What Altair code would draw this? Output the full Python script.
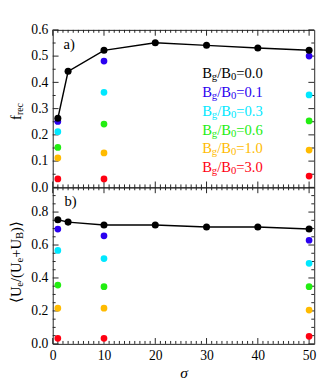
import altair as alt
import pandas as pd

# ---------------- data ----------------
sigma_all = [1, 3, 10, 20, 30, 40, 50]
sigma_bg = [1, 10, 50]

frec_bg00 = [0.263, 0.442, 0.522, 0.551, 0.541, 0.531, 0.522]
frec_bg01 = [0.251, 0.481, 0.500]
frec_bg03 = [0.212, 0.362, 0.352]
frec_bg06 = [0.152, 0.241, 0.253]
frec_bg10 = [0.112, 0.131, 0.142]
frec_bg30 = [0.032, 0.032, 0.043]

ue_bg00 = [0.753, 0.739, 0.721, 0.721, 0.709, 0.709, 0.697]
ue_bg01 = [0.697, 0.656, 0.629]
ue_bg03 = [0.567, 0.518, 0.489]
ue_bg06 = [0.357, 0.347, 0.347]
ue_bg10 = [0.217, 0.217, 0.205]
ue_bg30 = [0.034, 0.034, 0.046]

bg_values = ["0.0", "0.1", "0.3", "0.6", "1.0", "3.0"]
bg_colors = ["#000000", "#2a00f0", "#00e8ff", "#22ee11", "#ffbb00", "#ff0011"]

x_major = [0, 10, 20, 30, 40, 50]
x_minor = [i for i in range(1, 51) if i % 10]
ya_major = [0.0, 0.1, 0.2, 0.3, 0.4, 0.5, 0.6]
ya_minor = [0.05, 0.15, 0.25, 0.35, 0.45, 0.55]
yb_major = [0.0, 0.2, 0.4, 0.6, 0.8]
yb_minor = [0.05, 0.1, 0.15, 0.25, 0.3, 0.35, 0.45, 0.5, 0.55, 0.65, 0.7, 0.75, 0.85, 0.9]

# ---------------- style ----------------
W, HA, HB = 269, 162, 161
FONT = "Liberation Serif"
TICK = "#222222"
MAJ, MIN = 6, 3
xs = alt.Scale(domain=[0, 51], nice=False, zero=False)
ysa = alt.Scale(domain=[0, 0.6], nice=False, zero=False)
ysb = alt.Scale(domain=[0, 0.95], nice=False, zero=False)


def txt(s, x, y, size, color="black", angle=0, dx=0, dy=0):
    return alt.Chart(pd.DataFrame({"t": [s]})).mark_text(
        font=FONT, fontSize=size, color=color, align="left", baseline="middle",
        angle=angle, dx=dx, dy=dy).encode(
        x=alt.value(x), y=alt.value(y), text="t:N")


def panel(y_all, bg_lists, ys, ymaj, ymin, H, show_x, texts):
    if show_x:
        xaxis = alt.Axis(values=x_major, format="d", ticks=False, domain=False, grid=False,
                         labelFont=FONT, labelFontSize=14, labelColor="black", labelPadding=5,
                         labelFlush=False, title="σ", titleFont=FONT, titleFontStyle="italic",
                         titleFontWeight="normal", titleFontSize=16, titleColor="black",
                         titlePadding=3)
    else:
        xaxis = alt.Axis(values=x_major, labels=False, ticks=False, domain=False, grid=False,
                         title=None)
    yaxis = alt.Axis(values=ymaj, format=".1f", ticks=False, domain=False, grid=False,
                     labelFont=FONT, labelFontSize=14, labelColor="black", labelPadding=5,
                     labelFlush=False, labelOverlap=False, title=None)
    X = lambda f: alt.X(f, scale=xs, axis=xaxis)
    Y = lambda f: alt.Y(f, scale=ys, axis=yaxis)

    layers = []
    for vals, L in ((x_major, MAJ), (x_minor, MIN)):
        d = pd.DataFrame({"v": vals})
        for y0, y1 in ((H, H - L), (0, L)):
            layers.append(alt.Chart(d).mark_rule(color=TICK, strokeWidth=1).encode(
                x=X("v:Q"), y=alt.value(y0), y2=alt.value(y1)))
    for vals, L in ((ymaj, MAJ), (ymin, MIN)):
        d = pd.DataFrame({"v": vals})
        for x0, x1 in ((0, L), (W - L, W)):
            layers.append(alt.Chart(d).mark_rule(color=TICK, strokeWidth=1).encode(
                y=Y("v:Q"), x=alt.value(x0), x2=alt.value(x1)))

    rows = []
    for lab, vals in zip(bg_values[1:], bg_lists):
        for s, v in zip(sigma_bg, vals):
            rows.append({"sigma": s, "val": v, "bg": lab})
    pts = pd.DataFrame(rows)
    colored = alt.Chart(pts).mark_circle(size=48, opacity=1).encode(
        x=X("sigma:Q"), y=Y("val:Q"),
        color=alt.Color("bg:N", scale=alt.Scale(domain=bg_values[1:], range=bg_colors[1:]),
                        legend=None))
    black = pd.DataFrame({"sigma": sigma_all, "val": y_all})
    line = alt.Chart(black).mark_line(color="black", strokeWidth=1.5).encode(
        x=X("sigma:Q"), y=Y("val:Q"))
    bpts = alt.Chart(black).mark_circle(size=52, color="black", opacity=1).encode(
        x=X("sigma:Q"), y=Y("val:Q"))
    layers += [colored, line, bpts] + texts
    return alt.layer(*layers).properties(width=W, height=H)


# ---------------- texts ----------------
texts_a = [txt("a)", 11, 15, 15)]
TX = -37.5
texts_a += [txt("f", TX, 92.6, 15, angle=270),
            txt("rec", TX, 92.6, 10, angle=270, dx=5, dy=3.5)]
for i, (lab, col) in enumerate(zip(bg_values, bg_colors)):
    yy = 45 + 19.25 * i
    x0 = 153.7
    texts_a += [txt("B", x0, yy, 15, col),
                txt("g", x0 + 10, yy + 4, 11, col),
                txt("/B", x0 + 15.5, yy, 15, col),
                txt("0", x0 + 29.7, yy + 4, 11, col),
                txt("=" + lab, x0 + 35.2, yy, 15, col)]

texts_b = [txt("b)", 12, 14, 15)]
YB = 119
segs = [("⟨U", 0, 15, 0), ("e", 16.8, 11, 3.5), ("/(U", 21.7, 15, 0), ("e", 41.7, 11, 3.5),
        ("+U", 46.6, 15, 0), ("B", 65.9, 11, 3.5), (")⟩", 73.2, 15, 0)]
for s, off, size, sub in segs:
    texts_b.append(txt(s, TX, YB, size, angle=270, dx=off, dy=sub))

pa = panel(frec_bg00, [frec_bg01, frec_bg03, frec_bg06, frec_bg10, frec_bg30],
           ysa, ya_major, ya_minor, HA, False, texts_a)
pb = panel(ue_bg00, [ue_bg01, ue_bg03, ue_bg06, ue_bg10, ue_bg30],
           ysb, yb_major, yb_minor, HB, True, texts_b)

chart = alt.vconcat(pa, pb, spacing=0, bounds="flush").properties(
    padding={"left": 0, "top": 9, "right": 5, "bottom": 5}
).configure_view(stroke="#222222", strokeWidth=1)

chart.save("out.html", embed_options={"renderer": "svg", "actions": False})
